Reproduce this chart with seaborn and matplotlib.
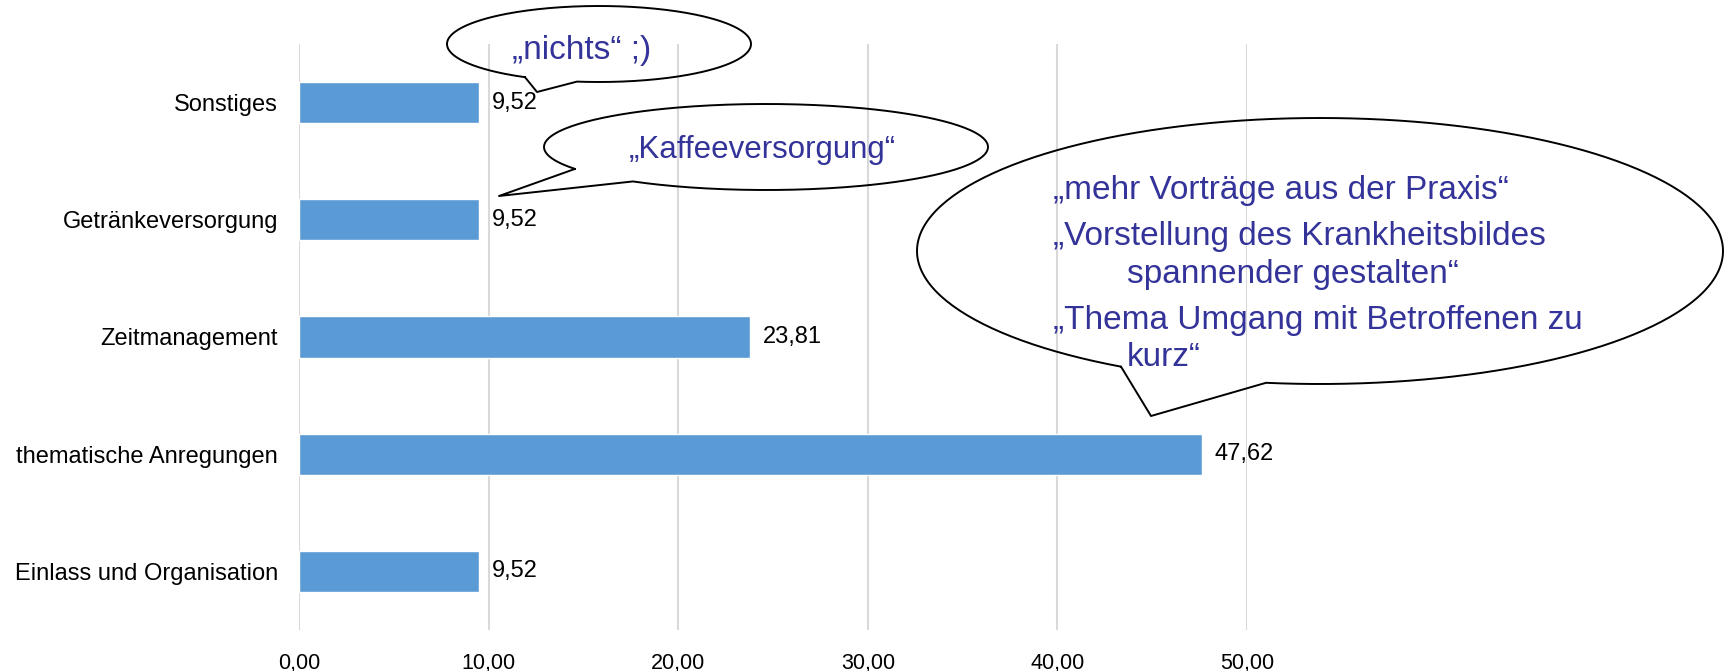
import numpy as np
import pandas as pd
import matplotlib
matplotlib.use("Agg")
import matplotlib.pyplot as plt
import seaborn as sns
from matplotlib.ticker import FuncFormatter, MultipleLocator

# === Data ===
categories = ["Sonstiges", "Getränkeversorgung", "Zeitmanagement",
              "thematische Anregungen", "Einlass und Organisation"]
values = [9.52, 9.52, 23.81, 47.62, 9.52]

# speech bubble texts
bubble_small = "„nichts“ ;)"
bubble_mid = "„Kaffeeversorgung“"
bubble_big = ["„mehr Vorträge aus der Praxis“",
              "„Vorstellung des Krankheitsbildes",
              "spannender gestalten“",
              "„Thema Umgang mit Betroffenen zu",
              "kurz“"]

BAR_COLOR = "#5B9BD5"
GRID_COLOR = "#D9D9D9"
QUOTE_COLOR = "#333399"
W, H = 1725, 671

sns.set_theme(style="white")
plt.rcParams['font.family'] = ['Liberation Sans', 'DejaVu Sans']

df = pd.DataFrame({"cat": categories, "val": values})

fig = plt.figure(figsize=(W / 100, H / 100), dpi=100)
ax = fig.add_axes([299 / W, 41 / H, (1247 - 299) / W, (630 - 44) / H])

sns.barplot(data=df, x="val", y="cat", orient="h", color=BAR_COLOR,
            width=0.35, saturation=1, ax=ax, zorder=3)

ax.set_xlim(0, 50)
ax.xaxis.set_major_locator(MultipleLocator(10))
ax.xaxis.set_major_formatter(FuncFormatter(lambda v, p: f"{v:.2f}".replace(".", ",")))
ax.grid(axis="x", color=GRID_COLOR, linewidth=1.5, zorder=0)
ax.grid(axis="y", visible=False)
for s in ax.spines.values():
    s.set_visible(False)
ax.set_xlabel("")
ax.set_ylabel("")
ax.tick_params(axis="y", length=0, pad=15, labelsize=17, labelcolor="black")
ax.tick_params(axis="x", length=0, pad=16.5, labelsize=15.5, labelcolor="black")

ax.bar_label(ax.containers[0],
             labels=[f"{v:.2f}".replace(".", ",") for v in values],
             padding=9, fontsize=17, color="black")

# === Overlay for the speech bubbles (pixel coordinates) ===
ov = fig.add_axes([0, 0, 1, 1], zorder=10)
ov.set_xlim(0, W)
ov.set_ylim(H, 0)
ov.axis("off")
ov.patch.set_alpha(0)


def speech_bubble(cx, cy, w, h, tip, bx1, bx2):
    # tail base points sit on the lower half of the ellipse at x = bx1, bx2
    a, b = w / 2, h / 2
    u1 = np.clip((bx1 - cx) / a, -1, 1)
    u2 = np.clip((bx2 - cx) / a, -1, 1)
    t1 = np.arctan2(np.sqrt(1 - u1 ** 2), u1)
    t2 = np.arctan2(np.sqrt(1 - u2 ** 2), u2)
    d = (t2 - t1) % (2 * np.pi)
    if d < np.pi:
        ts = np.linspace(t2, t2 + (2 * np.pi - d), 300)
    else:
        ts = np.linspace(t1, t1 + d, 300)
    xs = list(cx + a * np.cos(ts)) + [tip[0]]
    ys = list(cy + b * np.sin(ts)) + [tip[1]]
    xs.append(xs[0])
    ys.append(ys[0])
    ov.plot(xs, ys, color="black", linewidth=1.4)


speech_bubble(599, 44, 304, 76, (537, 92), 525, 577)
speech_bubble(766, 147, 444, 86, (499, 196), 575, 633)
speech_bubble(1320, 251, 806, 266, (1151, 416), 1121, 1266)

ov.text(512, 50, bubble_small, fontsize=24, color=QUOTE_COLOR, va="center", ha="left")
ov.text(629, 150, bubble_mid, fontsize=22.5, color=QUOTE_COLOR, va="center", ha="left")
for txt, x, y in zip(bubble_big, [1053, 1053, 1127, 1053, 1127], [191, 237, 274, 321, 357]):
    ov.text(x, y, txt, fontsize=24, color=QUOTE_COLOR, va="center", ha="left")

fig.savefig("out.png", dpi=100)
